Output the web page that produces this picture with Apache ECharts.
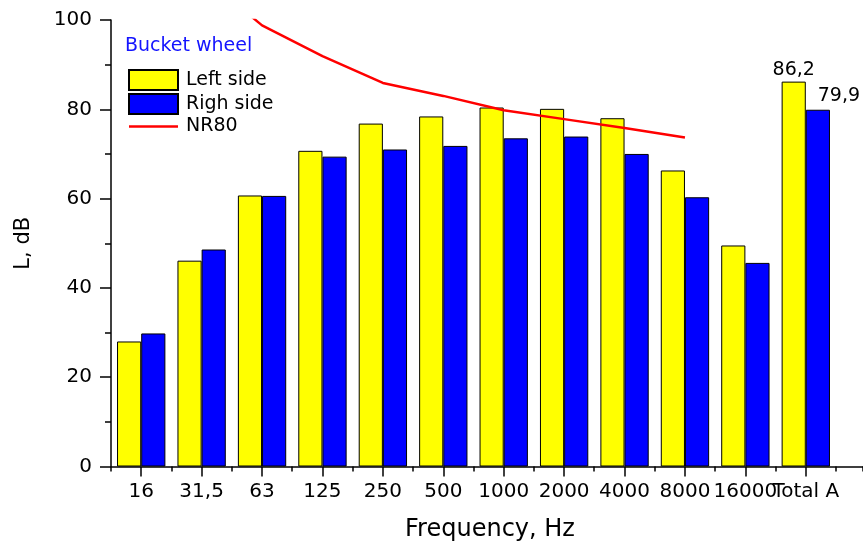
<!DOCTYPE html>
<html>
<head>
<meta charset="utf-8">
<script src="https://cdn.jsdelivr.net/npm/echarts@6/dist/echarts.min.js"></script>
<style>
html,body{margin:0;padding:0;background:#fff;}
#chart{width:863px;height:541px;}
</style>
</head>
<body>
<div id="chart"></div>
<script>
var categories = ['16', '31,5', '63', '125', '250', '500', '1000', '2000', '4000', '8000', '16000', 'Total A'];
var leftSide = [28.0, 46.1, 60.7, 70.7, 76.8, 78.4, 80.4, 80.1, 78.0, 66.3, 49.5, 86.2];
var rightSide = [29.8, 48.6, 60.6, 69.4, 71.0, 71.8, 73.5, 73.9, 70.0, 60.3, 45.6, 79.9];
var nr80 = [null, 110.0, 98.8, 91.9, 85.9, 83.0, 79.8, 77.8, 75.8, 73.7, null, null];
var yTicks = [0, 20, 40, 60, 80, 100];

var FONT = 'DejaVu Sans';
var lastIdx = categories.length - 1;

function commaFmt(v) { return String(v).replace('.', ','); }

function barData(arr, labelOpt) {
  return arr.map(function (v, i) {
    if (i === lastIdx) {
      return { value: v, label: labelOpt };
    }
    return v;
  });
}

var chart = echarts.init(document.getElementById('chart'), null, { renderer: 'canvas' });
chart.setOption({
  backgroundColor: '#ffffff',
  animation: false,
  title: {
    text: 'Bucket wheel',
    left: 120,
    top: 32,
    textStyle: { fontFamily: FONT, fontSize: 19, fontWeight: 'normal', color: '#1414ff' }
  },
  legend: {
    orient: 'vertical',
    left: 123,
    top: 64,
    itemWidth: 49,
    itemHeight: 20,
    itemGap: 2,
    textStyle: { fontFamily: FONT, fontSize: 19, color: '#000', padding: [0, 0, 0, 3] },
    data: [
      { name: 'Left side', icon: 'rect' },
      { name: 'Righ side', icon: 'rect' },
      { name: 'NR80', icon: 'path://M0,0 H49 V2.5 H0 Z' }
    ]
  },
  grid: [
    { left: 111, top: 20, bottom: 74.5, right: 27, containLabel: false, outerBoundsMode: 'none' },
    { left: 111, top: 20, bottom: 74.5, right: 0, containLabel: false, outerBoundsMode: 'none' }
  ],
  xAxis: [
    {
      type: 'category',
      gridIndex: 0,
      position: 'bottom',
      data: categories,
      boundaryGap: true,
      axisLine: { show: false },
      axisTick: { show: true, alignWithLabel: true, length: 10, lineStyle: { color: '#000', width: 1.5 } },
      axisLabel: { interval: 0, margin: 15, fontFamily: FONT, fontSize: 20, color: '#000' },
      splitLine: { show: false }
    },
    {
      type: 'value',
      gridIndex: 1,
      position: 'bottom',
      min: 0,
      max: 12.45,
      interval: 1,
      name: 'Frequency, Hz',
      nameLocation: 'middle',
      nameGap: 51,
      nameTextStyle: { fontFamily: FONT, fontSize: 24, color: '#000', padding: [0, 0, 0, 6] },
      axisLine: { show: true, lineStyle: { color: '#000', width: 1.5 } },
      axisTick: { show: true, length: 5, lineStyle: { color: '#000', width: 1.5 } },
      axisLabel: { show: false },
      splitLine: { show: false }
    }
  ],
  yAxis: [
    {
      type: 'value',
      gridIndex: 0,
      min: yTicks[0],
      max: yTicks[yTicks.length - 1],
      interval: 20,
      name: 'L, dB',
      nameLocation: 'middle',
      nameGap: 77,
      nameTextStyle: { fontFamily: FONT, fontSize: 21, color: '#000' },
      axisLine: { show: true, lineStyle: { color: '#000', width: 1.5 } },
      axisTick: { show: true, length: 11, lineStyle: { color: '#000', width: 1.5 } },
      minorTick: { show: true, splitNumber: 2, length: 6, lineStyle: { color: '#000', width: 1.5 } },
      axisLabel: { margin: 19, fontFamily: FONT, fontSize: 20, color: '#000' },
      splitLine: { show: false },
      minorSplitLine: { show: false }
    },
    {
      type: 'value',
      gridIndex: 1,
      min: 0,
      max: 1,
      show: false
    }
  ],
  series: [
    {
      name: 'Left side',
      type: 'bar',
      xAxisIndex: 0,
      yAxisIndex: 0,
      barGap: '0%',
      barCategoryGap: '20%',
      itemStyle: { color: '#ffff00', borderColor: '#000', borderWidth: 1 },
      data: barData(leftSide, {
        show: true, position: 'top', distance: 2,
        fontFamily: FONT, fontSize: 19, color: '#000',
        formatter: function (p) { return commaFmt(p.value); }
      })
    },
    {
      name: 'Righ side',
      type: 'bar',
      xAxisIndex: 0,
      yAxisIndex: 0,
      barGap: '0%',
      barCategoryGap: '20%',
      itemStyle: { color: '#0000ff', borderColor: '#000', borderWidth: 1 },
      data: barData(rightSide, {
        show: true, position: 'top', distance: 4, offset: [21, 0],
        fontFamily: FONT, fontSize: 19, color: '#000',
        formatter: function (p) { return commaFmt(p.value); }
      })
    },
    {
      name: 'NR80',
      type: 'line',
      xAxisIndex: 0,
      yAxisIndex: 0,
      symbol: 'none',
      showSymbol: false,
      clip: true,
      connectNulls: false,
      lineStyle: { color: '#ff0000', width: 2.5 },
      itemStyle: { color: '#ff0000' },
      data: nr80,
      z: 5
    }
  ]
});
</script>
</body>
</html>
